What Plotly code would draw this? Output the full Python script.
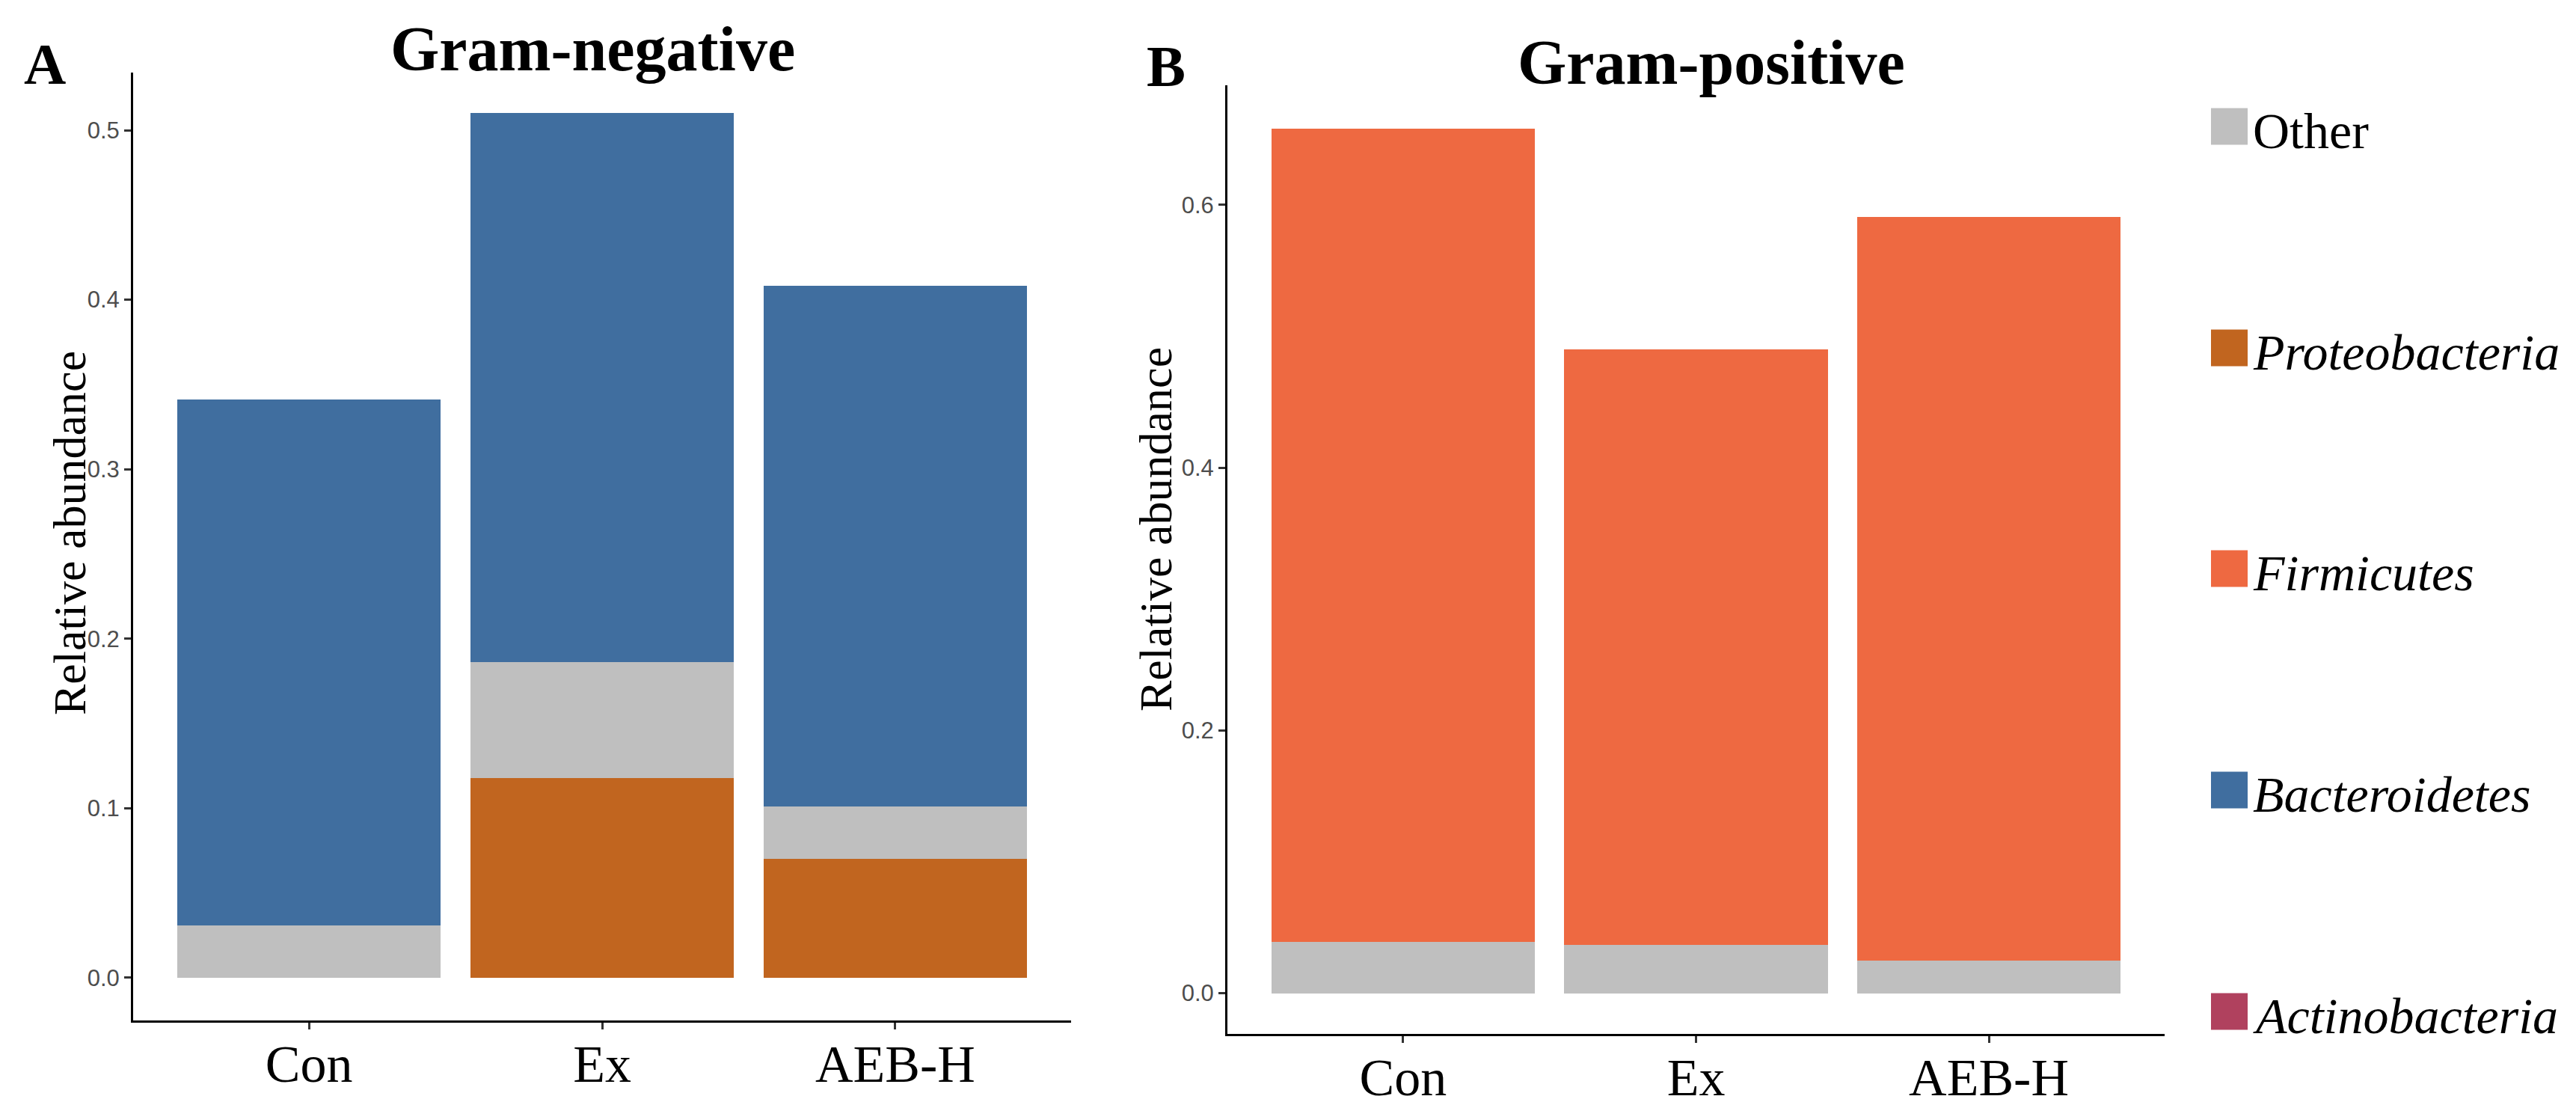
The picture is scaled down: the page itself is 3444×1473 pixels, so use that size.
import plotly.graph_objects as go

W, H = 3444, 1473

categories = ["Con", "Ex", "AEB-H"]

# Gram-negative panel (stacked bottom -> top)
gn_proteobacteria = [0.000, 0.118, 0.070]
gn_other = [0.031, 0.068, 0.031]
gn_bacteroidetes = [0.310, 0.324, 0.307]

# Gram-positive panel (stacked bottom -> top)
gp_other = [0.039, 0.037, 0.025]
gp_firmicutes = [0.619, 0.453, 0.566]

legend_names = ["Other", "Proteobacteria", "Firmicutes", "Bacteroidetes", "Actinobacteria"]
legend_italic = [False, True, True, True, True]

colors = {
    "Other": "#BFBFBF",
    "Proteobacteria": "#C1651F",
    "Firmicutes": "#EE6941",
    "Bacteroidetes": "#406E9F",
    "Actinobacteria": "#B0415E",
}

SERIF = "Liberation Serif, Times New Roman, serif"
SANS = "Liberation Sans, Arial, sans-serif"

def py(px):
    return 1 - px / H

def pxx(px):
    return px / W

fig = go.Figure()

for name, vals in [("Proteobacteria", gn_proteobacteria), ("Other", gn_other), ("Bacteroidetes", gn_bacteroidetes)]:
    fig.add_trace(go.Bar(x=categories, y=vals, name=name, marker=dict(color=colors[name], line=dict(width=0)),
                         xaxis="x", yaxis="y", showlegend=False))

for name, vals in [("Other", gp_other), ("Firmicutes", gp_firmicutes)]:
    fig.add_trace(go.Bar(x=categories, y=vals, name=name, marker=dict(color=colors[name], line=dict(width=0)),
                         xaxis="x2", yaxis="y2", showlegend=False))

axis_common = dict(
    showline=True, linecolor="black", linewidth=3, showgrid=False, zeroline=False,
    ticks="outside", ticklen=9, tickwidth=3, tickcolor="#333333",
)

xa = dict(axis_common, type="category", range=[-0.6, 2.6],
          tickfont=dict(family=SERIF, size=70, color="black"), ticklabelstandoff=-14)
ya_font = dict(family=SANS, size=31, color="#4D4D4D")

fig.update_layout(
    width=W, height=H,
    margin=dict(l=0, r=0, t=0, b=0, pad=0),
    paper_bgcolor="white", plot_bgcolor="white",
    barmode="stack", bargap=0.1,
    xaxis=dict(xa, domain=[pxx(170), pxx(1424)], anchor="y"),
    yaxis=dict(axis_common, domain=[py(1356), py(89)], range=[-0.0252, 0.534],
               tickvals=[0, 0.1, 0.2, 0.3, 0.4, 0.5], tickformat=".1f", tickfont=ya_font, anchor="x"),
    xaxis2=dict(xa, domain=[pxx(1633), pxx(2886)], anchor="y2"),
    yaxis2=dict(axis_common, domain=[py(1374), py(106)], range=[-0.031, 0.691],
                tickvals=[0, 0.2, 0.4, 0.6], tickformat=".1f", tickfont=ya_font, anchor="x2"),
    showlegend=False,
)

ann = []
# Panel titles and letters
ann.append(dict(text="<b>Gram-negative</b>", x=pxx(784), y=py(58), font=dict(family=SERIF, size=84, color="black")))
ann.append(dict(text="<b>Gram-positive</b>", x=pxx(2280), y=py(75), font=dict(family=SERIF, size=84, color="black")))
ann.append(dict(text="<b>A</b>", x=pxx(52), y=py(78), font=dict(family=SERIF, size=78, color="black")))
ann.append(dict(text="<b>B</b>", x=pxx(1551), y=py(80), font=dict(family=SERIF, size=78, color="black")))
# y-axis titles
ann.append(dict(text="Relative abundance", x=pxx(85), y=py(705), textangle=-90,
                font=dict(family=SERIF, size=62, color="black")))
ann.append(dict(text="Relative abundance", x=pxx(1537), y=py(700), textangle=-90,
                font=dict(family=SERIF, size=62, color="black")))

shapes = []
legend_centers = [161, 457, 752, 1048, 1344]
for name, italic, cy in zip(legend_names, legend_italic, legend_centers):
    shapes.append(dict(type="rect", xref="paper", yref="paper", x0=pxx(2948), x1=pxx(2997),
                       y0=py(cy + 24.5), y1=py(cy - 24.5), fillcolor=colors[name], line=dict(width=0)))
    label = f"<i>{name}</i>" if italic else name
    ann.append(dict(text=label, x=pxx(3002), y=py(cy + 6), xanchor="left",
                    font=dict(family=SERIF, size=68, color="black")))

for a in ann:
    a.setdefault("xref", "paper")
    a.setdefault("yref", "paper")
    a.setdefault("showarrow", False)
    a.setdefault("xanchor", "center")
    a.setdefault("yanchor", "middle")

fig.update_layout(annotations=ann, shapes=shapes)

fig.write_html("out.html")
